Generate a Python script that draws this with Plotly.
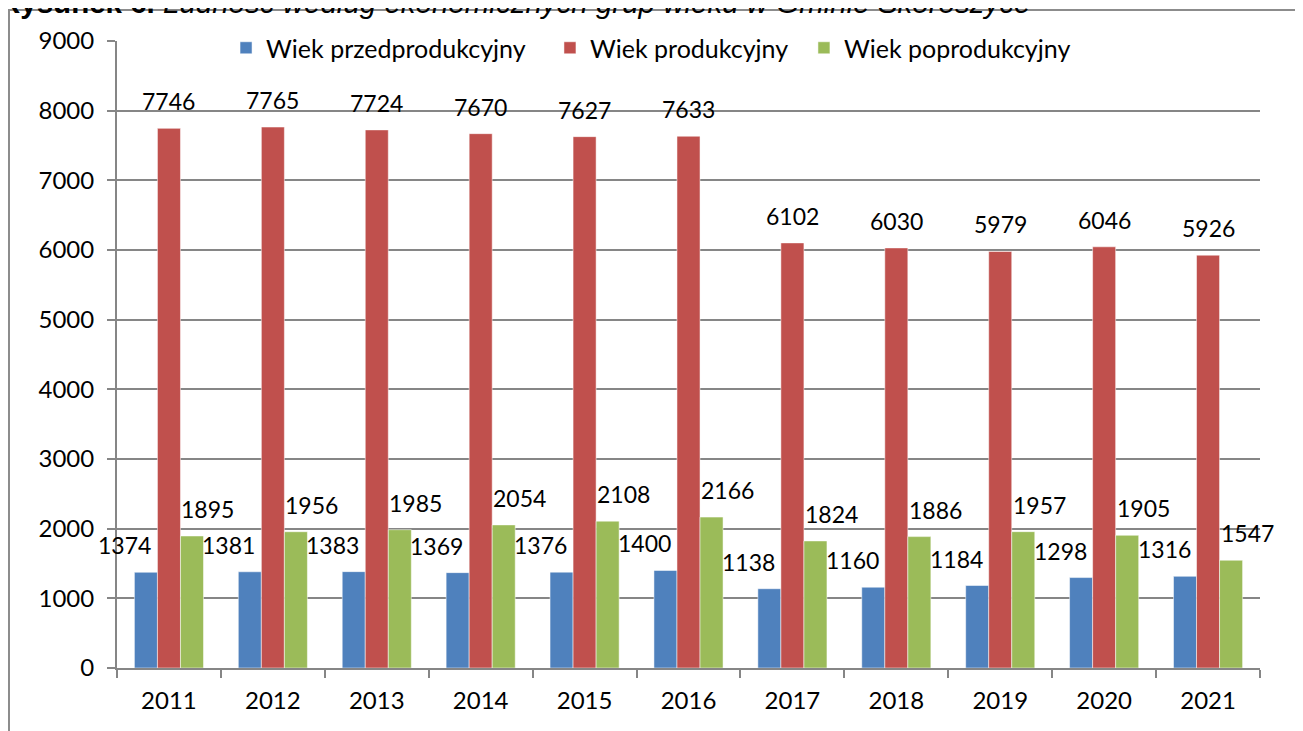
import plotly.graph_objects as go

# data
years = ['2011', '2012', '2013', '2014', '2015', '2016', '2017', '2018', '2019', '2020', '2021']
przedprodukcyjny = [1374, 1381, 1383, 1369, 1376, 1400, 1138, 1160, 1184, 1298, 1316]
produkcyjny = [7746, 7765, 7724, 7670, 7627, 7633, 6102, 6030, 5979, 6046, 5926]
poprodukcyjny = [1895, 1956, 1985, 2054, 2108, 2166, 1824, 1886, 1957, 1905, 1547]

# name, values, colour, label x-offset, legend slot, legend x
series = [
    ('Wiek przedprodukcyjny', przedprodukcyjny, '#4F81BD', -44, 'legend', 0.0954),
    ('Wiek produkcyjny', produkcyjny, '#C0504D', 0, 'legend2', 0.3788),
    ('Wiek poprodukcyjny', poprodukcyjny, '#9BBB59', 39, 'legend3', 0.601),
]

FONT = 'Lato, Calibri, sans-serif'
FS = 24

fig = go.Figure()
annotations = []
legends = {}
for name, values, color, label_shift, leg, leg_x in series:
    fig.add_trace(go.Bar(
        x=years, y=values, name=name, legend=leg,
        marker=dict(color=color, line=dict(color='rgba(255,255,255,0.5)', width=1)),
    ))
    legends[leg] = dict(
        orientation='h', x=leg_x, y=0.9888, xanchor='left', yanchor='middle',
        bgcolor='rgba(0,0,0,0)', font=dict(family=FONT, size=25, color='black'),
        borderwidth=0,
    )
    # data labels above the bars (Excel style, slightly offset sideways)
    for i, v in enumerate(values):
        annotations.append(dict(
            x=i, y=v, xref='x', yref='y', text=str(v), showarrow=False,
            xshift=label_shift, yshift=27, yanchor='middle',
            font=dict(family=FONT, size=23, color='black'),
        ))

# figure caption, cut off at the top of the page
annotations.append(dict(
    xref='paper', yref='paper', x=-0.105, y=1.032, xanchor='left', yanchor='bottom',
    text='<b>Rysunek 6.</b> <i>Ludność według ekonomicznych grup wieku w Gminie Skoroszyce</i>',
    showarrow=False, font=dict(family='Liberation Sans, Arial, sans-serif', size=29.5, color='black'),
))

fig.update_layout(
    width=1303, height=731,
    barmode='group', bargap=0.335, bargroupgap=0,
    margin=dict(l=109, r=51, t=33, b=71),
    paper_bgcolor='white', plot_bgcolor='white',
    font=dict(family=FONT, size=FS, color='black'),
    showlegend=True,
    annotations=annotations,
    shapes=[
        # outer chart frame
        dict(type='rect', xref='paper', yref='paper',
             x0=-0.0945, x1=1.0324, y0=-0.2, y1=1.0494,
             line=dict(color='#8c8c8c', width=2), layer='below'),
    ],
    **legends,
)

fig.update_xaxes(
    type='category', range=[-0.5, 10.5], showline=True, linecolor='#868686', linewidth=2,
    ticks='outside', tickson='boundaries', ticklen=8, tickcolor='#868686', tickwidth=2,
    showgrid=False, tickfont=dict(size=FS), tickangle=0, ticklabelstandoff=10,
)
fig.update_yaxes(
    range=[0, 9000], dtick=1000, showline=True, linecolor='#868686', linewidth=2,
    ticks='outside', ticklen=8, tickcolor='#868686', tickwidth=2,
    showgrid=True, gridcolor='#868686', gridwidth=2, zeroline=False,
    tickfont=dict(size=FS), ticklabelstandoff=8,
)

fig.write_html('out.html')
